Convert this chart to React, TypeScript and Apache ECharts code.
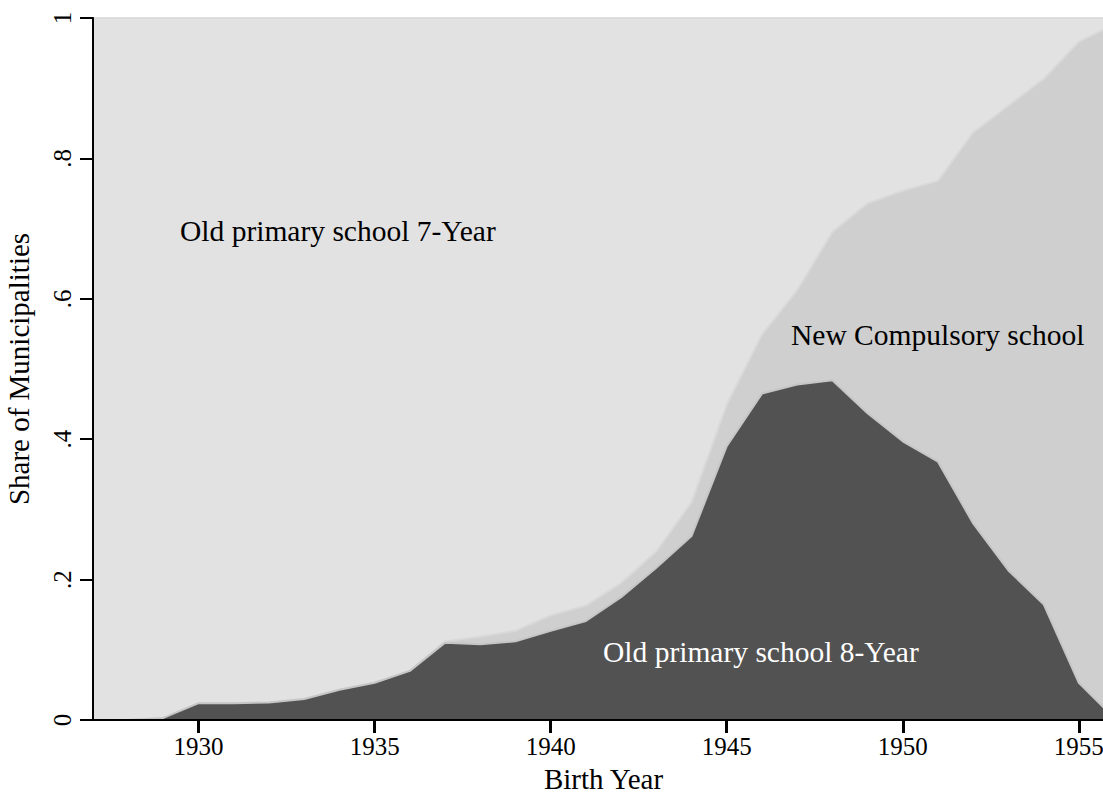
import React, { useEffect, useRef } from "react";
import * as echarts from "echarts";

const years = [
  1927, 1928, 1929, 1930, 1931, 1932, 1933, 1934, 1935, 1936, 1937, 1938, 1939, 1940, 1941,
  1942, 1943, 1944, 1945, 1946, 1947, 1948, 1949, 1950, 1951, 1952, 1953, 1954, 1955, 1956,
];
// share of municipalities with the old 8-year primary school
const eightYear = [
  0, 0, 0.003, 0.024, 0.024, 0.025, 0.03, 0.043, 0.053, 0.07, 0.11, 0.108, 0.112, 0.127, 0.141,
  0.175, 0.217, 0.262, 0.39, 0.465, 0.478, 0.484, 0.437, 0.397, 0.368, 0.28, 0.213, 0.165, 0.053, 0.003,
];
// share with the new compulsory school
const compulsory = [
  0, 0, 0, 0, 0, 0, 0, 0, 0, 0, 0.002, 0.011, 0.015, 0.022, 0.022,
  0.02, 0.023, 0.048, 0.059, 0.084, 0.134, 0.211, 0.299, 0.357, 0.4, 0.557, 0.662, 0.748, 0.913, 0.988,
];
const xTicks = [1930, 1935, 1940, 1945, 1950, 1955];
const yTicks = [0, 0.2, 0.4, 0.6, 0.8, 1];
const yTickLabels = ["0", ".2", ".4", ".6", ".8", "1"];

const FONT = "'Liberation Serif', 'Times New Roman', serif";

export default function App() {
  const ref = useRef<HTMLDivElement>(null);
  useEffect(() => {
    if (!ref.current) return;
    const chart = echarts.init(ref.current, undefined, { renderer: "svg" });
    // cumulative top of the compulsory-school band
    const upper = years.map((y, i) => [y, eightYear[i] + compulsory[i]]);
    const lower = years.map((y, i) => [y, eightYear[i]]);
    chart.setOption({
      animation: false,
      backgroundColor: "#ffffff",
      grid: {
        left: 93,
        top: 18,
        right: -11,
        bottom: 74,
        outerBoundsMode: "none",
        containLabel: false,
        show: true,
        backgroundColor: "#e2e2e2",
        borderColor: "#d6d6d6",
        borderWidth: 1.5,
      },
      xAxis: {
        type: "value",
        min: 1927,
        max: 1956,
        name: "Birth Year",
        nameLocation: "middle",
        nameGap: 44,
        nameTextStyle: { fontFamily: FONT, fontSize: 29, color: "#000" },
        axisLine: { show: true, onZero: false, lineStyle: { color: "#000", width: 2 } },
        axisTick: {
          show: true,
          length: 13,
          customValues: xTicks,
          lineStyle: { color: "#000", width: 3 },
        },
        axisLabel: {
          fontFamily: FONT,
          fontSize: 25,
          color: "#000",
          margin: 14,
          customValues: xTicks,
          formatter: (v: number) => String(v),
        },
        splitLine: { show: false },
        z: 10,
      },
      yAxis: {
        type: "value",
        min: 0,
        max: 1,
        interval: 0.2,
        name: "Share of Municipalities",
        nameLocation: "middle",
        nameGap: 60,
        nameTextStyle: { fontFamily: FONT, fontSize: 29, color: "#000" },
        axisLine: { show: true, lineStyle: { color: "#000", width: 2 } },
        axisTick: { show: true, length: 13, lineStyle: { color: "#000", width: 2 } },
        axisLabel: {
          fontFamily: FONT,
          fontSize: 25,
          color: "#000",
          rotate: 90,
          margin: 18,
          formatter: (v: number) => {
            const idx = yTicks.findIndex((t) => Math.abs(t - v) < 1e-6);
            return idx >= 0 ? yTickLabels[idx] : "";
          },
        },
        splitLine: { show: false },
        z: 10,
      },
      series: [
        {
          name: "New Compulsory school",
          type: "line",
          data: upper,
          showSymbol: false,
          symbol: "none",
          lineStyle: { color: "#d9d9d9", width: 2 },
          areaStyle: { color: "#cfcfcf", opacity: 1 },
          z: 3,
        },
        {
          name: "Old primary school 8-Year",
          type: "line",
          data: lower,
          showSymbol: false,
          symbol: "none",
          lineStyle: { color: "#c6c6c6", width: 2 },
          areaStyle: { color: "#525252", opacity: 1 },
          z: 4,
        },
      ],
      graphic: [
        {
          type: "text",
          left: 180,
          top: 216,
          z: 20,
          style: { text: "Old primary school 7-Year", fontFamily: FONT, fontSize: 29.5, fill: "#000" },
        },
        {
          type: "text",
          left: 791,
          top: 320,
          z: 20,
          style: { text: "New Compulsory school", fontFamily: FONT, fontSize: 29.5, fill: "#000" },
        },
        {
          type: "text",
          left: 603,
          top: 637,
          z: 20,
          style: { text: "Old primary school 8-Year", fontFamily: FONT, fontSize: 29.5, fill: "#ffffff" },
        },
      ],
    });
    return () => chart.dispose();
  }, []);
  return (
    <div
      ref={ref}
      style={{ position: "fixed", left: 0, top: 0, width: 1103, height: 794 }}
    />
  );
}
